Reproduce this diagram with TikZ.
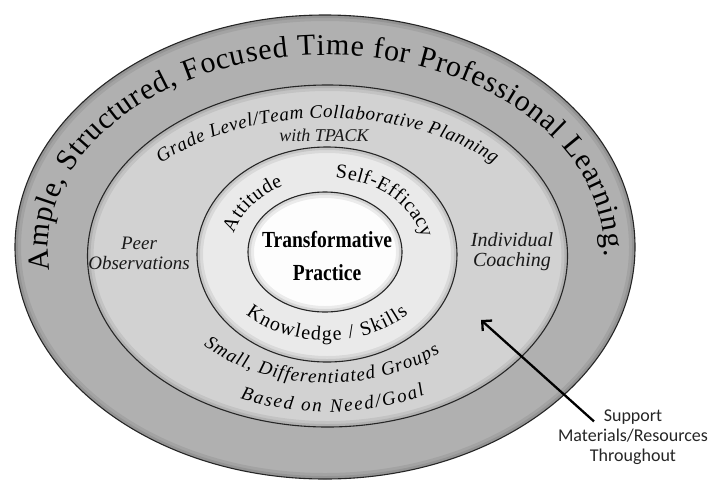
\documentclass[tikz,border=0pt]{standalone}
\usepackage{fontspec}
\usepackage{graphicx}
\setmainfont{Liberation Serif}
\newfontfamily\supfont{Carlito}
\usetikzlibrary{decorations.text,arrows.meta}
\definecolor{ringA}{HTML}{B0B0B0}
\definecolor{ringB}{HTML}{D2D2D2}
\definecolor{ringC}{HTML}{EAEAEA}
\definecolor{ringD}{HTML}{FDFDFD}
\newcommand\outerfnt{\fontsize{30}{30}\selectfont}
\newcommand\midfnt{\itshape\fontsize{19}{19}\selectfont}
\newcommand\innerfnt{\fontsize{20}{20}\selectfont}
\newcommand\bevelring[4]{% fill colour, centre, x radius, y radius
  \fill[#1] (#2) ellipse [x radius=#3, y radius=#4];
  \begin{scope}
    \clip (#2) ellipse [x radius=#3, y radius=#4];
    \draw[black, opacity=.07, line width=12pt] (#2) ellipse [x radius=#3, y radius=#4];
    \draw[black, opacity=.09, line width=6pt] (#2) ellipse [x radius=#3, y radius=#4];
  \end{scope}
  \draw[draw=black!85, line width=1.1pt] (#2) ellipse [x radius=#3, y radius=#4];}
\begin{document}
\begin{tikzpicture}[x=1pt,y=1pt,
  arctext/.style={decorate, decoration={text along path, text align={fit to path}}},
  midlabel/.style={font=\itshape\fontsize{18}{20}\selectfont, align=center, inner sep=0pt, text=black!90},
  arr/.style={-{Straight Barb[length=7pt,width=14pt]}, line width=2.3pt}]
\fill[white] (0,0) rectangle (708,-482);
\useasboundingbox (0,0) rectangle (708,-482);
% centres
\coordinate (cA) at (325,-247);
\coordinate (cB) at (327.5,-256);
\coordinate (cC) at (327,-254.5);
\coordinate (cD) at (325,-252);
\coordinate (cT) at (326,-250);
% rings
\bevelring{ringA}{cA}{310pt}{232pt}
\bevelring{ringB}{cB}{240pt}{171pt}
\bevelring{ringC}{cC}{130pt}{107.5pt}
\bevelring{ringD}{cD}{77pt}{60pt}
% outer ring text
\path[arctext, decoration={text={|\outerfnt|Ample, Structured, Focused Time for Professional Learning.}}]
  ([shift={(186:278pt and 195pt)}]cT) arc[start angle=186, end angle=-2, x radius=278pt, y radius=195pt];
% second ring texts
\path[arctext, decoration={text={|\midfnt|Grade Level/Team Collaborative Planning}}]
  ([shift={(138:224pt and 138pt)}]cB) arc[start angle=138, end angle=42, x radius=224pt, y radius=138pt];
\node[midlabel, anchor=base] (tpack) at (324,-141) {with TPACK};
\node[midlabel, font=\itshape\fontsize{19}{20}\selectfont] (peer) at (139,-253) {Peer\\Observations};
\node[midlabel, font=\itshape\fontsize{20}{20}\selectfont] (coach) at (512,-252) {Individual\\Coaching};
\path[arctext, decoration={text={|\midfnt|Small, Differentiated Groups}}]
  ([shift={(225:175pt and 127pt)}]cB) arc[start angle=225, end angle=310, x radius=175pt, y radius=127pt];
\path[arctext, decoration={text={|\midfnt|Based on Need/Goal}}]
  ([shift={(246:215pt and 156pt)}]cB) arc[start angle=246, end angle=297, x radius=215pt, y radius=156pt];
% third ring texts
\path[arctext, decoration={text={|\innerfnt|Attitude}}]
  ([shift={(164:97pt and 77pt)}]cC) arc[start angle=164, end angle=117, x radius=97pt, y radius=77pt];
\path[arctext, decoration={text={|\innerfnt|Self-Efficacy}}]
  ([shift={(85:97pt and 77pt)}]cC) arc[start angle=85, end angle=12, x radius=97pt, y radius=77pt];
\path[arctext, decoration={text={|\innerfnt|Knowledge / Skills}}]
  ([shift={(224:113pt and 86pt)}]cC) arc[start angle=224, end angle=316, x radius=113pt, y radius=86pt];
% centre
\node[font=\bfseries\fontsize{23}{33}\selectfont, align=center, inner sep=0pt] (core) at (327,-255.6)
  {\scalebox{0.85}[1]{Transformative}\\\scalebox{0.85}[1]{Practice}};
% support label and arrow
\node[font=\supfont\fontsize{18}{20}\selectfont, align=center, inner sep=0pt, text=black!85] (sup) at (633,-437)
  {Support\\Materials/Resources\\Throughout};
\coordinate (tip) at (481,-320);
\draw[arr] ([shift={(-39pt,-12pt)}]sup.north) -- (tip);
\end{tikzpicture}
\end{document}
